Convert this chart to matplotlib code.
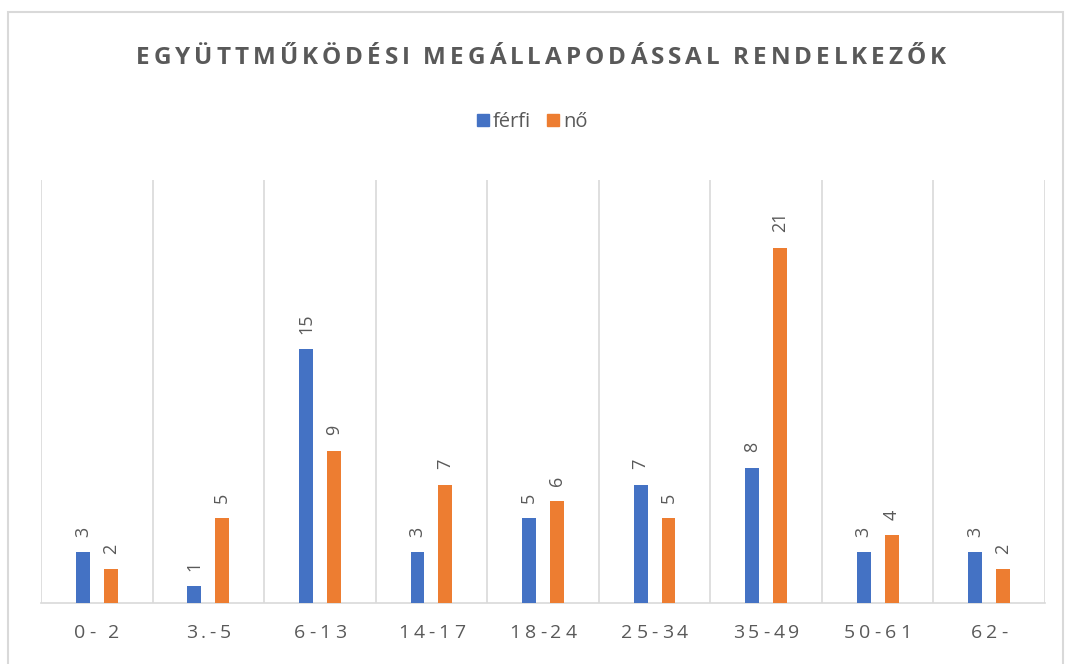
import matplotlib
matplotlib.use("Agg")
import matplotlib.pyplot as plt
from matplotlib.patches import Rectangle, Patch
import numpy as np

# adatok
kategoriak = ["0- 2", "3.-5", "6-13", "14-17", "18-24", "25-34", "35-49", "50-61", "62-"]
ferfi = [3, 1, 15, 3, 5, 7, 8, 3, 3]
no = [2, 5, 9, 7, 6, 5, 21, 4, 2]
cim = "EGYÜTTMŰKÖDÉSI MEGÁLLAPODÁSSAL RENDELKEZŐK"

KEK = "#4472C4"
NARANCS = "#ED7D31"
SZURKE = "#595959"
RACS = "#D9D9D9"

plt.rcParams['font.family'] = ['Open Sans', 'DejaVu Sans']

W, H = 1067, 664
fig = plt.figure(figsize=(W / 100, H / 100), dpi=100)
fig.patch.set_facecolor("white")
fig.add_artist(Rectangle((8 / W, -0.05), 1055 / W, 1.05 - 12 / H, transform=fig.transFigure,
                         fill=False, edgecolor=RACS, linewidth=1.5))

ax = fig.add_axes([41 / W, 1 - 603 / H, 1004 / W, 423 / H])
x = np.arange(len(kategoriak))
bw = 0.125
b1 = ax.bar(x - bw, ferfi, bw, color=KEK, label="férfi", zorder=3)
b2 = ax.bar(x + bw, no, bw, color=NARANCS, label="nő", zorder=3)

for bars, vals in ((b1, ferfi), (b2, no)):
    for r, v in zip(bars, vals):
        ax.annotate(str(v), (r.get_x() + r.get_width() / 2, v), xytext=(0, 11),
                    textcoords="offset points", rotation=90, ha="center", va="bottom",
                    fontsize=13, color=SZURKE)

ax.set_xlim(-0.5, len(kategoriak) - 0.5)
ax.set_ylim(0, 25)
ax.set_yticks([])
ax.set_xticks(np.arange(-0.5, len(kategoriak)), minor=True)
ax.set_xticks([])
ax.grid(True, which="minor", axis="x", color=RACS, linewidth=1.2, zorder=0)
ax.tick_params(which="both", length=0)
for s in ("top", "left", "right"):
    ax.spines[s].set_visible(False)
ax.spines["bottom"].set_color(RACS)
ax.spines["bottom"].set_linewidth(1.2)

renderer = fig.canvas.get_renderer()


# ritkitott betuk: karakterenkent rajzolva
def ritkitott(s, cx, cy, spacing, **kw):
    ws = []
    for c in s:
        if c == " ":
            ws.append(kw.get("fontsize", 12) * 0.3)
            continue
        t = fig.text(0, 0, c, **kw)
        ws.append(t.get_window_extent(renderer).width)
        t.remove()
    total = sum(ws) + spacing * (len(s) - 1)
    px = cx - total / 2
    for c, w in zip(s, ws):
        if c != " ":
            fig.text(px / W, cy / H, c, ha="left", va="center", **kw)
        px += w + spacing


ritkitott(cim, 541, H - 58, 4.0, fontsize=17.5, fontweight="bold", color=SZURKE)

for i, lab in enumerate(kategoriak):
    cx = ax.transData.transform((i, 0))[0]
    ritkitott(lab, cx, H - 633, 4.0, fontsize=14, color=SZURKE)

fig.legend(handles=[Patch(color=KEK, label="férfi"), Patch(color=NARANCS, label="nő")],
           loc="center", bbox_to_anchor=(532 / W, 1 - 122 / H), ncol=2, frameon=False,
           fontsize=14.5, handlelength=0.6, handleheight=0.6, handletextpad=0.2,
           columnspacing=0.8, labelcolor=SZURKE)

fig.savefig("out.png", dpi=100)
